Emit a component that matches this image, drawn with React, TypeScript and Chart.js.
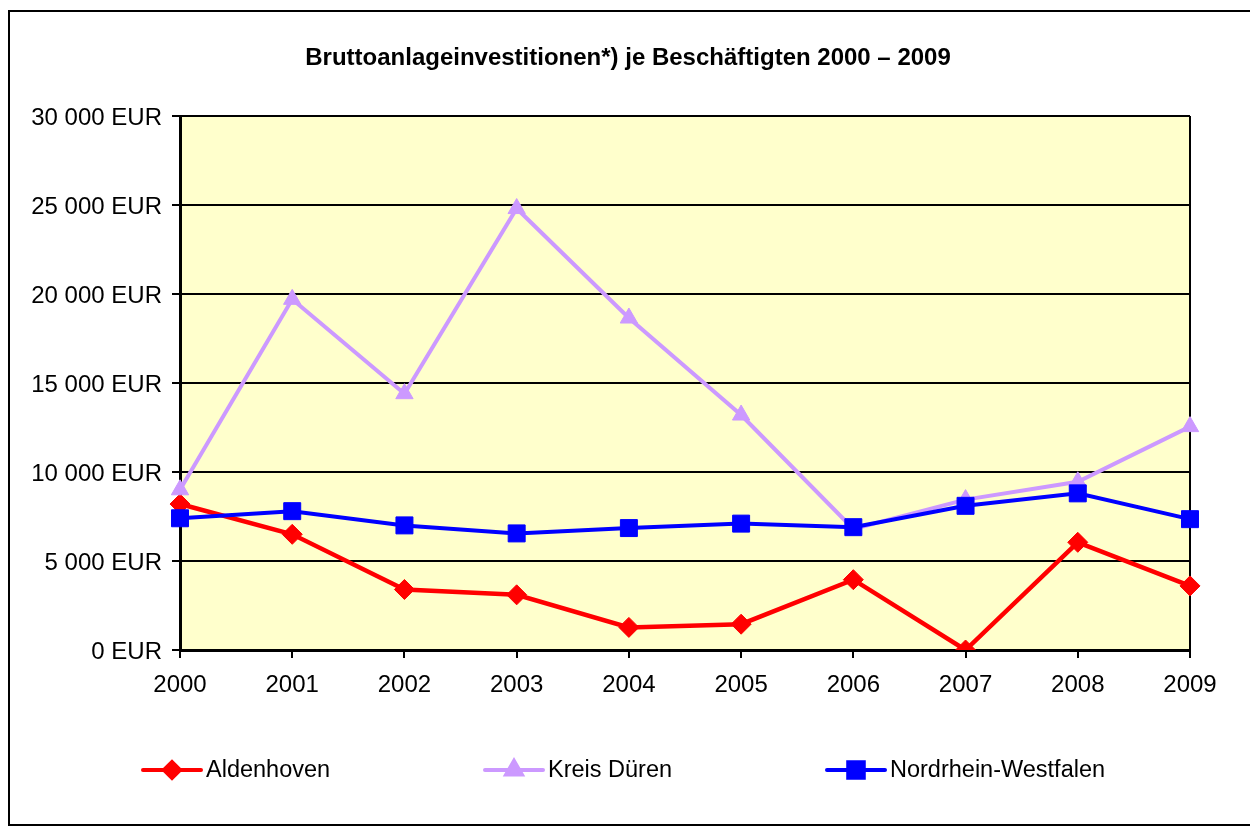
import React, { useEffect, useRef } from "react";
import { Chart, registerables } from "chart.js";
import { drawPoint } from "chart.js/helpers";

Chart.register(...registerables);

const years = ["2000", "2001", "2002", "2003", "2004", "2005", "2006", "2007", "2008", "2009"];
const aldenhoven = [8200, 6500, 3400, 3100, 1270, 1450, 3950, 0, 6050, 3600];
const kreisDueren = [9000, 19700, 14400, 24800, 18650, 13200, 6800, 8450, 9450, 12550];
const nordrheinWestfalen = [7400, 7800, 7000, 6550, 6850, 7100, 6900, 8100, 8800, 7350];
const seriesNames = ["Aldenhoven", "Kreis Düren", "Nordrhein-Westfalen"];
const titleText = "Bruttoanlageinvestitionen*) je Beschäftigten 2000 – 2009";
const yMin = 0;
const yMax = 30000;
const yStep = 5000;

const FONT = "'Liberation Sans', Arial, sans-serif";

function fmtEur(v: number): string {
  const s = String(Math.round(v)).replace(/\B(?=(\d{3})+(?!\d))/g, " ");
  return s + " EUR";
}

const legendX = [143, 485, 827];

const framePlugin = {
  id: "frame",
  beforeDraw(chart: any) {
    const { ctx, chartArea: a } = chart;
    ctx.save();
    ctx.fillStyle = "#ffffff";
    ctx.fillRect(0, 0, chart.width, chart.height);
    ctx.fillStyle = "#FFFFCC";
    ctx.fillRect(a.left, a.top, a.right - a.left, a.bottom - a.top);
    ctx.strokeStyle = "#000000";
    ctx.lineWidth = 2;
    ctx.strokeRect(9, 11, 1250, 814);
    ctx.restore();
  },
  beforeDatasetsDraw(chart: any) {
    const { ctx, chartArea: a } = chart;
    ctx.save();
    ctx.strokeStyle = "#000000";
    ctx.lineWidth = 2;
    ctx.beginPath();
    ctx.moveTo(a.right, a.top);
    ctx.lineTo(a.right, a.bottom);
    ctx.stroke();
    ctx.restore();
  },
  afterDraw(chart: any) {
    const { ctx } = chart;
    ctx.save();
    // title
    ctx.fillStyle = "#000000";
    ctx.font = `bold 24px ${FONT}`;
    ctx.textAlign = "center";
    ctx.textBaseline = "middle";
    ctx.fillText(titleText, 628, 58);
    // legend
    const y = 770;
    chart.data.datasets.forEach((ds: any, i: number) => {
      const x = legendX[i];
      ctx.strokeStyle = ds.borderColor;
      ctx.lineWidth = 4;
      ctx.lineCap = "round";
      ctx.beginPath();
      ctx.moveTo(x, y);
      ctx.lineTo(x + 58, y);
      ctx.stroke();
      ctx.fillStyle = ds.pointBackgroundColor;
      ctx.strokeStyle = ds.pointBorderColor;
      drawPoint(ctx, { pointStyle: ds.pointStyle, radius: ds.legendRadius, borderWidth: 1, rotation: 0 } as any, x + 29, y);
      ctx.fillStyle = "#000000";
      ctx.font = `23.5px ${FONT}`;
      ctx.textAlign = "left";
      ctx.textBaseline = "middle";
      ctx.fillText(ds.label, x + 63, y + 1);
    });
    ctx.restore();
  },
};

export default function App() {
  const ref = useRef<HTMLCanvasElement | null>(null);

  useEffect(() => {
    if (!ref.current) return;
    Chart.defaults.font.family = FONT;
    const chart = new Chart(ref.current, {
      type: "line",
      data: {
        labels: years,
        datasets: [
          {
            label: seriesNames[0],
            data: aldenhoven,
            borderColor: "#FF0000",
            backgroundColor: "#FF0000",
            pointBackgroundColor: "#FF0000",
            pointBorderColor: "#FF0000",
            borderWidth: 4.5,
            pointStyle: "rectRot",
            pointRadius: 10,
            pointBorderWidth: 1,
            tension: 0,
            order: 2,
            legendRadius: 8,
          } as any,
          {
            label: seriesNames[1],
            data: kreisDueren,
            borderColor: "#CC99FF",
            backgroundColor: "#CC99FF",
            pointBackgroundColor: "#CC99FF",
            pointBorderColor: "#CC99FF",
            borderWidth: 4,
            pointStyle: "triangle",
            pointRadius: 10,
            pointBorderWidth: 1,
            tension: 0,
            order: 1,
            legendRadius: 9,
          } as any,
          {
            label: seriesNames[2],
            data: nordrheinWestfalen,
            borderColor: "#0000FF",
            backgroundColor: "#0000FF",
            pointBackgroundColor: "#0000FF",
            pointBorderColor: "#0000FF",
            borderWidth: 4,
            pointStyle: "rect",
            pointRadius: 12,
            pointBorderWidth: 1,
            tension: 0,
            order: 0,
            legendRadius: 11,
          } as any,
        ],
      },
      options: {
        responsive: false,
        animation: false,
        devicePixelRatio: 1,
        layout: { padding: { top: 116, right: 60, bottom: 0, left: 0 } },
        plugins: {
          legend: { display: false },
          title: { display: false },
          tooltip: { enabled: false },
        },
        scales: {
          x: {
            type: "category",
            offset: false,
            grid: {
              display: true,
              drawOnChartArea: false,
              drawTicks: true,
              tickLength: 8,
              color: "#000000",
              lineWidth: 2,
            },
            border: { display: true, color: "#000000", width: 3 },
            ticks: {
              color: "#000000",
              font: { family: FONT, size: 24 },
              padding: 13,
              maxRotation: 0,
              autoSkip: false,
            },
            afterFit: (s: any) => {
              s.height = 177;
            },
          },
          y: {
            min: yMin,
            max: yMax,
            grid: {
              color: "#000000",
              lineWidth: 2,
              drawTicks: true,
              tickLength: 8,
            },
            border: { display: true, color: "#000000", width: 3 },
            ticks: {
              stepSize: yStep,
              color: "#000000",
              font: { family: FONT, size: 24 },
              padding: 10,
              labelOffset: 2,
              callback: (v: any) => fmtEur(Number(v)),
            },
            afterFit: (s: any) => {
              s.width = 180;
            },
          },
        },
      },
      plugins: [framePlugin],
    });
    return () => chart.destroy();
  }, []);

  return (
    <div style={{ position: "absolute", left: 0, top: 0, width: 1250, height: 827, background: "#fff" }}>
      <canvas ref={ref} width={1250} height={827} style={{ display: "block", width: 1250, height: 827 }} />
    </div>
  );
}
